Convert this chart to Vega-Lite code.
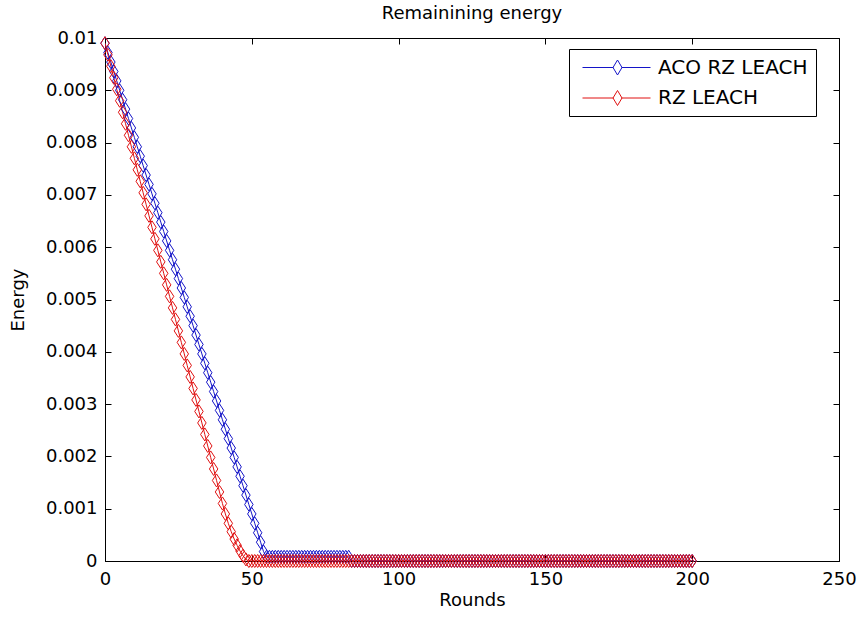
{
  "$schema": "https://vega.github.io/schema/vega-lite/v6.json",
  "width": 734,
  "height": 523,
  "autosize": {"type": "none"},
  "padding": {"left": 105, "top": 38, "right": 19, "bottom": 57},
  "background": "white",
  "title": {"text": "Remainining energy", "fontSize": 18, "fontWeight": "normal", "font": "DejaVu Sans", "color": "black", "offset": 6},
  "config": {
    "view": {"stroke": "black", "strokeWidth": 1},
    "axis": {"grid": false, "domainColor": "black", "tickColor": "black", "labelColor": "black", "titleColor": "black", "labelFont": "DejaVu Sans", "titleFont": "DejaVu Sans", "labelFontSize": 18, "titleFontSize": 18, "titleFontWeight": "normal", "tickSize": -6, "domainWidth": 1, "tickWidth": 1, "labelFlush": false},
    "legend": {"title": null, "orient": "none", "legendX": 464, "legendY": 11, "direction": "vertical",
               "symbolType": "M-0.5,0L2.6,0M3.4,0L6.3,0M3,-0.75L3.45,0L3,0.75L2.55,0Z", "symbolSize": 400, "symbolStrokeWidth": 1,
               "symbolFillColor": "transparent", "labelFont": "DejaVu Sans", "labelFontSize": 20, "labelColor": "black",
               "strokeColor": "black", "fillColor": "white", "padding": 8, "rowPadding": 9.5, "labelOffset": 60, "labelLimit": 400}
  },
  "data": {"values": [
{"r":0,"s":"ACO RZ LEACH","e":0.0099},{"r":1,"s":"ACO RZ LEACH","e":0.00972},{"r":2,"s":"ACO RZ LEACH","e":0.00954},{"r":3,"s":"ACO RZ LEACH","e":0.00936},{"r":4,"s":"ACO RZ LEACH","e":0.00918},{"r":5,"s":"ACO RZ LEACH","e":0.009},{"r":6,"s":"ACO RZ LEACH","e":0.00882},{"r":7,"s":"ACO RZ LEACH","e":0.00864},{"r":8,"s":"ACO RZ LEACH","e":0.00846},{"r":9,"s":"ACO RZ LEACH","e":0.00828},
{"r":10,"s":"ACO RZ LEACH","e":0.0081},{"r":11,"s":"ACO RZ LEACH","e":0.00792},{"r":12,"s":"ACO RZ LEACH","e":0.00774},{"r":13,"s":"ACO RZ LEACH","e":0.00756},{"r":14,"s":"ACO RZ LEACH","e":0.00738},{"r":15,"s":"ACO RZ LEACH","e":0.0072},{"r":16,"s":"ACO RZ LEACH","e":0.00702},{"r":17,"s":"ACO RZ LEACH","e":0.00684},{"r":18,"s":"ACO RZ LEACH","e":0.00666},{"r":19,"s":"ACO RZ LEACH","e":0.00648},
{"r":20,"s":"ACO RZ LEACH","e":0.0063},{"r":21,"s":"ACO RZ LEACH","e":0.00612},{"r":22,"s":"ACO RZ LEACH","e":0.00594},{"r":23,"s":"ACO RZ LEACH","e":0.00576},{"r":24,"s":"ACO RZ LEACH","e":0.00558},{"r":25,"s":"ACO RZ LEACH","e":0.0054},{"r":26,"s":"ACO RZ LEACH","e":0.00522},{"r":27,"s":"ACO RZ LEACH","e":0.00504},{"r":28,"s":"ACO RZ LEACH","e":0.00486},{"r":29,"s":"ACO RZ LEACH","e":0.00468},
{"r":30,"s":"ACO RZ LEACH","e":0.0045},{"r":31,"s":"ACO RZ LEACH","e":0.00432},{"r":32,"s":"ACO RZ LEACH","e":0.00414},{"r":33,"s":"ACO RZ LEACH","e":0.00396},{"r":34,"s":"ACO RZ LEACH","e":0.00378},{"r":35,"s":"ACO RZ LEACH","e":0.0036},{"r":36,"s":"ACO RZ LEACH","e":0.00342},{"r":37,"s":"ACO RZ LEACH","e":0.00324},{"r":38,"s":"ACO RZ LEACH","e":0.00306},{"r":39,"s":"ACO RZ LEACH","e":0.00288},
{"r":40,"s":"ACO RZ LEACH","e":0.0027},{"r":41,"s":"ACO RZ LEACH","e":0.00252},{"r":42,"s":"ACO RZ LEACH","e":0.00234},{"r":43,"s":"ACO RZ LEACH","e":0.00216},{"r":44,"s":"ACO RZ LEACH","e":0.00198},{"r":45,"s":"ACO RZ LEACH","e":0.0018},{"r":46,"s":"ACO RZ LEACH","e":0.00162},{"r":47,"s":"ACO RZ LEACH","e":0.00144},{"r":48,"s":"ACO RZ LEACH","e":0.00126},{"r":49,"s":"ACO RZ LEACH","e":0.00108},
{"r":50,"s":"ACO RZ LEACH","e":0.0009},{"r":51,"s":"ACO RZ LEACH","e":0.00072},{"r":52,"s":"ACO RZ LEACH","e":0.00054},{"r":53,"s":"ACO RZ LEACH","e":0.00036},{"r":54,"s":"ACO RZ LEACH","e":0.00018},{"r":55,"s":"ACO RZ LEACH","e":0.00008},{"r":56,"s":"ACO RZ LEACH","e":0.00008},{"r":57,"s":"ACO RZ LEACH","e":0.00008},{"r":58,"s":"ACO RZ LEACH","e":0.00008},{"r":59,"s":"ACO RZ LEACH","e":0.00008},
{"r":60,"s":"ACO RZ LEACH","e":0.00008},{"r":61,"s":"ACO RZ LEACH","e":0.00008},{"r":62,"s":"ACO RZ LEACH","e":0.00008},{"r":63,"s":"ACO RZ LEACH","e":0.00008},{"r":64,"s":"ACO RZ LEACH","e":0.00008},{"r":65,"s":"ACO RZ LEACH","e":0.00008},{"r":66,"s":"ACO RZ LEACH","e":0.00008},{"r":67,"s":"ACO RZ LEACH","e":0.00008},{"r":68,"s":"ACO RZ LEACH","e":0.00008},{"r":69,"s":"ACO RZ LEACH","e":0.00008},
{"r":70,"s":"ACO RZ LEACH","e":0.00008},{"r":71,"s":"ACO RZ LEACH","e":0.00008},{"r":72,"s":"ACO RZ LEACH","e":0.00008},{"r":73,"s":"ACO RZ LEACH","e":0.00008},{"r":74,"s":"ACO RZ LEACH","e":0.00008},{"r":75,"s":"ACO RZ LEACH","e":0.00008},{"r":76,"s":"ACO RZ LEACH","e":0.00008},{"r":77,"s":"ACO RZ LEACH","e":0.00008},{"r":78,"s":"ACO RZ LEACH","e":0.00008},{"r":79,"s":"ACO RZ LEACH","e":0.00008},
{"r":80,"s":"ACO RZ LEACH","e":0.00008},{"r":81,"s":"ACO RZ LEACH","e":0.00008},{"r":82,"s":"ACO RZ LEACH","e":0.00008},{"r":83,"s":"ACO RZ LEACH","e":0.00008},{"r":84,"s":"ACO RZ LEACH","e":0},{"r":85,"s":"ACO RZ LEACH","e":0},{"r":86,"s":"ACO RZ LEACH","e":0},{"r":87,"s":"ACO RZ LEACH","e":0},{"r":88,"s":"ACO RZ LEACH","e":0},{"r":89,"s":"ACO RZ LEACH","e":0},
{"r":90,"s":"ACO RZ LEACH","e":0},{"r":91,"s":"ACO RZ LEACH","e":0},{"r":92,"s":"ACO RZ LEACH","e":0},{"r":93,"s":"ACO RZ LEACH","e":0},{"r":94,"s":"ACO RZ LEACH","e":0},{"r":95,"s":"ACO RZ LEACH","e":0},{"r":96,"s":"ACO RZ LEACH","e":0},{"r":97,"s":"ACO RZ LEACH","e":0},{"r":98,"s":"ACO RZ LEACH","e":0},{"r":99,"s":"ACO RZ LEACH","e":0},
{"r":100,"s":"ACO RZ LEACH","e":0},{"r":101,"s":"ACO RZ LEACH","e":0},{"r":102,"s":"ACO RZ LEACH","e":0},{"r":103,"s":"ACO RZ LEACH","e":0},{"r":104,"s":"ACO RZ LEACH","e":0},{"r":105,"s":"ACO RZ LEACH","e":0},{"r":106,"s":"ACO RZ LEACH","e":0},{"r":107,"s":"ACO RZ LEACH","e":0},{"r":108,"s":"ACO RZ LEACH","e":0},{"r":109,"s":"ACO RZ LEACH","e":0},
{"r":110,"s":"ACO RZ LEACH","e":0},{"r":111,"s":"ACO RZ LEACH","e":0},{"r":112,"s":"ACO RZ LEACH","e":0},{"r":113,"s":"ACO RZ LEACH","e":0},{"r":114,"s":"ACO RZ LEACH","e":0},{"r":115,"s":"ACO RZ LEACH","e":0},{"r":116,"s":"ACO RZ LEACH","e":0},{"r":117,"s":"ACO RZ LEACH","e":0},{"r":118,"s":"ACO RZ LEACH","e":0},{"r":119,"s":"ACO RZ LEACH","e":0},
{"r":120,"s":"ACO RZ LEACH","e":0},{"r":121,"s":"ACO RZ LEACH","e":0},{"r":122,"s":"ACO RZ LEACH","e":0},{"r":123,"s":"ACO RZ LEACH","e":0},{"r":124,"s":"ACO RZ LEACH","e":0},{"r":125,"s":"ACO RZ LEACH","e":0},{"r":126,"s":"ACO RZ LEACH","e":0},{"r":127,"s":"ACO RZ LEACH","e":0},{"r":128,"s":"ACO RZ LEACH","e":0},{"r":129,"s":"ACO RZ LEACH","e":0},
{"r":130,"s":"ACO RZ LEACH","e":0},{"r":131,"s":"ACO RZ LEACH","e":0},{"r":132,"s":"ACO RZ LEACH","e":0},{"r":133,"s":"ACO RZ LEACH","e":0},{"r":134,"s":"ACO RZ LEACH","e":0},{"r":135,"s":"ACO RZ LEACH","e":0},{"r":136,"s":"ACO RZ LEACH","e":0},{"r":137,"s":"ACO RZ LEACH","e":0},{"r":138,"s":"ACO RZ LEACH","e":0},{"r":139,"s":"ACO RZ LEACH","e":0},
{"r":140,"s":"ACO RZ LEACH","e":0},{"r":141,"s":"ACO RZ LEACH","e":0},{"r":142,"s":"ACO RZ LEACH","e":0},{"r":143,"s":"ACO RZ LEACH","e":0},{"r":144,"s":"ACO RZ LEACH","e":0},{"r":145,"s":"ACO RZ LEACH","e":0},{"r":146,"s":"ACO RZ LEACH","e":0},{"r":147,"s":"ACO RZ LEACH","e":0},{"r":148,"s":"ACO RZ LEACH","e":0},{"r":149,"s":"ACO RZ LEACH","e":0},
{"r":150,"s":"ACO RZ LEACH","e":0},{"r":151,"s":"ACO RZ LEACH","e":0},{"r":152,"s":"ACO RZ LEACH","e":0},{"r":153,"s":"ACO RZ LEACH","e":0},{"r":154,"s":"ACO RZ LEACH","e":0},{"r":155,"s":"ACO RZ LEACH","e":0},{"r":156,"s":"ACO RZ LEACH","e":0},{"r":157,"s":"ACO RZ LEACH","e":0},{"r":158,"s":"ACO RZ LEACH","e":0},{"r":159,"s":"ACO RZ LEACH","e":0},
{"r":160,"s":"ACO RZ LEACH","e":0},{"r":161,"s":"ACO RZ LEACH","e":0},{"r":162,"s":"ACO RZ LEACH","e":0},{"r":163,"s":"ACO RZ LEACH","e":0},{"r":164,"s":"ACO RZ LEACH","e":0},{"r":165,"s":"ACO RZ LEACH","e":0},{"r":166,"s":"ACO RZ LEACH","e":0},{"r":167,"s":"ACO RZ LEACH","e":0},{"r":168,"s":"ACO RZ LEACH","e":0},{"r":169,"s":"ACO RZ LEACH","e":0},
{"r":170,"s":"ACO RZ LEACH","e":0},{"r":171,"s":"ACO RZ LEACH","e":0},{"r":172,"s":"ACO RZ LEACH","e":0},{"r":173,"s":"ACO RZ LEACH","e":0},{"r":174,"s":"ACO RZ LEACH","e":0},{"r":175,"s":"ACO RZ LEACH","e":0},{"r":176,"s":"ACO RZ LEACH","e":0},{"r":177,"s":"ACO RZ LEACH","e":0},{"r":178,"s":"ACO RZ LEACH","e":0},{"r":179,"s":"ACO RZ LEACH","e":0},
{"r":180,"s":"ACO RZ LEACH","e":0},{"r":181,"s":"ACO RZ LEACH","e":0},{"r":182,"s":"ACO RZ LEACH","e":0},{"r":183,"s":"ACO RZ LEACH","e":0},{"r":184,"s":"ACO RZ LEACH","e":0},{"r":185,"s":"ACO RZ LEACH","e":0},{"r":186,"s":"ACO RZ LEACH","e":0},{"r":187,"s":"ACO RZ LEACH","e":0},{"r":188,"s":"ACO RZ LEACH","e":0},{"r":189,"s":"ACO RZ LEACH","e":0},
{"r":190,"s":"ACO RZ LEACH","e":0},{"r":191,"s":"ACO RZ LEACH","e":0},{"r":192,"s":"ACO RZ LEACH","e":0},{"r":193,"s":"ACO RZ LEACH","e":0},{"r":194,"s":"ACO RZ LEACH","e":0},{"r":195,"s":"ACO RZ LEACH","e":0},{"r":196,"s":"ACO RZ LEACH","e":0},{"r":197,"s":"ACO RZ LEACH","e":0},{"r":198,"s":"ACO RZ LEACH","e":0},{"r":199,"s":"ACO RZ LEACH","e":0},
{"r":200,"s":"ACO RZ LEACH","e":0},
{"r":0,"s":"RZ LEACH","e":0.0099},{"r":1,"s":"RZ LEACH","e":0.00968},{"r":2,"s":"RZ LEACH","e":0.00946},{"r":3,"s":"RZ LEACH","e":0.00924},{"r":4,"s":"RZ LEACH","e":0.00902},{"r":5,"s":"RZ LEACH","e":0.0088},{"r":6,"s":"RZ LEACH","e":0.00858},{"r":7,"s":"RZ LEACH","e":0.00836},{"r":8,"s":"RZ LEACH","e":0.00814},{"r":9,"s":"RZ LEACH","e":0.00792},
{"r":10,"s":"RZ LEACH","e":0.0077},{"r":11,"s":"RZ LEACH","e":0.00748},{"r":12,"s":"RZ LEACH","e":0.00726},{"r":13,"s":"RZ LEACH","e":0.00704},{"r":14,"s":"RZ LEACH","e":0.00682},{"r":15,"s":"RZ LEACH","e":0.0066},{"r":16,"s":"RZ LEACH","e":0.00638},{"r":17,"s":"RZ LEACH","e":0.00616},{"r":18,"s":"RZ LEACH","e":0.00594},{"r":19,"s":"RZ LEACH","e":0.00572},
{"r":20,"s":"RZ LEACH","e":0.0055},{"r":21,"s":"RZ LEACH","e":0.00528},{"r":22,"s":"RZ LEACH","e":0.00506},{"r":23,"s":"RZ LEACH","e":0.00484},{"r":24,"s":"RZ LEACH","e":0.00462},{"r":25,"s":"RZ LEACH","e":0.0044},{"r":26,"s":"RZ LEACH","e":0.00418},{"r":27,"s":"RZ LEACH","e":0.00396},{"r":28,"s":"RZ LEACH","e":0.00374},{"r":29,"s":"RZ LEACH","e":0.00352},
{"r":30,"s":"RZ LEACH","e":0.0033},{"r":31,"s":"RZ LEACH","e":0.00308},{"r":32,"s":"RZ LEACH","e":0.00286},{"r":33,"s":"RZ LEACH","e":0.00264},{"r":34,"s":"RZ LEACH","e":0.00242},{"r":35,"s":"RZ LEACH","e":0.0022},{"r":36,"s":"RZ LEACH","e":0.00198},{"r":37,"s":"RZ LEACH","e":0.00176},{"r":38,"s":"RZ LEACH","e":0.00154},{"r":39,"s":"RZ LEACH","e":0.00132},
{"r":40,"s":"RZ LEACH","e":0.0011},{"r":41,"s":"RZ LEACH","e":0.0009},{"r":42,"s":"RZ LEACH","e":0.00072},{"r":43,"s":"RZ LEACH","e":0.00056},{"r":44,"s":"RZ LEACH","e":0.00042},{"r":45,"s":"RZ LEACH","e":0.0003},{"r":46,"s":"RZ LEACH","e":0.00019},{"r":47,"s":"RZ LEACH","e":0.0001},{"r":48,"s":"RZ LEACH","e":0.00003},{"r":49,"s":"RZ LEACH","e":0},
{"r":50,"s":"RZ LEACH","e":0},{"r":51,"s":"RZ LEACH","e":0},{"r":52,"s":"RZ LEACH","e":0},{"r":53,"s":"RZ LEACH","e":0},{"r":54,"s":"RZ LEACH","e":0},{"r":55,"s":"RZ LEACH","e":0},{"r":56,"s":"RZ LEACH","e":0},{"r":57,"s":"RZ LEACH","e":0},{"r":58,"s":"RZ LEACH","e":0},{"r":59,"s":"RZ LEACH","e":0},
{"r":60,"s":"RZ LEACH","e":0},{"r":61,"s":"RZ LEACH","e":0},{"r":62,"s":"RZ LEACH","e":0},{"r":63,"s":"RZ LEACH","e":0},{"r":64,"s":"RZ LEACH","e":0},{"r":65,"s":"RZ LEACH","e":0},{"r":66,"s":"RZ LEACH","e":0},{"r":67,"s":"RZ LEACH","e":0},{"r":68,"s":"RZ LEACH","e":0},{"r":69,"s":"RZ LEACH","e":0},
{"r":70,"s":"RZ LEACH","e":0},{"r":71,"s":"RZ LEACH","e":0},{"r":72,"s":"RZ LEACH","e":0},{"r":73,"s":"RZ LEACH","e":0},{"r":74,"s":"RZ LEACH","e":0},{"r":75,"s":"RZ LEACH","e":0},{"r":76,"s":"RZ LEACH","e":0},{"r":77,"s":"RZ LEACH","e":0},{"r":78,"s":"RZ LEACH","e":0},{"r":79,"s":"RZ LEACH","e":0},
{"r":80,"s":"RZ LEACH","e":0},{"r":81,"s":"RZ LEACH","e":0},{"r":82,"s":"RZ LEACH","e":0},{"r":83,"s":"RZ LEACH","e":0},{"r":84,"s":"RZ LEACH","e":0},{"r":85,"s":"RZ LEACH","e":0},{"r":86,"s":"RZ LEACH","e":0},{"r":87,"s":"RZ LEACH","e":0},{"r":88,"s":"RZ LEACH","e":0},{"r":89,"s":"RZ LEACH","e":0},
{"r":90,"s":"RZ LEACH","e":0},{"r":91,"s":"RZ LEACH","e":0},{"r":92,"s":"RZ LEACH","e":0},{"r":93,"s":"RZ LEACH","e":0},{"r":94,"s":"RZ LEACH","e":0},{"r":95,"s":"RZ LEACH","e":0},{"r":96,"s":"RZ LEACH","e":0},{"r":97,"s":"RZ LEACH","e":0},{"r":98,"s":"RZ LEACH","e":0},{"r":99,"s":"RZ LEACH","e":0},
{"r":100,"s":"RZ LEACH","e":0},{"r":101,"s":"RZ LEACH","e":0},{"r":102,"s":"RZ LEACH","e":0},{"r":103,"s":"RZ LEACH","e":0},{"r":104,"s":"RZ LEACH","e":0},{"r":105,"s":"RZ LEACH","e":0},{"r":106,"s":"RZ LEACH","e":0},{"r":107,"s":"RZ LEACH","e":0},{"r":108,"s":"RZ LEACH","e":0},{"r":109,"s":"RZ LEACH","e":0},
{"r":110,"s":"RZ LEACH","e":0},{"r":111,"s":"RZ LEACH","e":0},{"r":112,"s":"RZ LEACH","e":0},{"r":113,"s":"RZ LEACH","e":0},{"r":114,"s":"RZ LEACH","e":0},{"r":115,"s":"RZ LEACH","e":0},{"r":116,"s":"RZ LEACH","e":0},{"r":117,"s":"RZ LEACH","e":0},{"r":118,"s":"RZ LEACH","e":0},{"r":119,"s":"RZ LEACH","e":0},
{"r":120,"s":"RZ LEACH","e":0},{"r":121,"s":"RZ LEACH","e":0},{"r":122,"s":"RZ LEACH","e":0},{"r":123,"s":"RZ LEACH","e":0},{"r":124,"s":"RZ LEACH","e":0},{"r":125,"s":"RZ LEACH","e":0},{"r":126,"s":"RZ LEACH","e":0},{"r":127,"s":"RZ LEACH","e":0},{"r":128,"s":"RZ LEACH","e":0},{"r":129,"s":"RZ LEACH","e":0},
{"r":130,"s":"RZ LEACH","e":0},{"r":131,"s":"RZ LEACH","e":0},{"r":132,"s":"RZ LEACH","e":0},{"r":133,"s":"RZ LEACH","e":0},{"r":134,"s":"RZ LEACH","e":0},{"r":135,"s":"RZ LEACH","e":0},{"r":136,"s":"RZ LEACH","e":0},{"r":137,"s":"RZ LEACH","e":0},{"r":138,"s":"RZ LEACH","e":0},{"r":139,"s":"RZ LEACH","e":0},
{"r":140,"s":"RZ LEACH","e":0},{"r":141,"s":"RZ LEACH","e":0},{"r":142,"s":"RZ LEACH","e":0},{"r":143,"s":"RZ LEACH","e":0},{"r":144,"s":"RZ LEACH","e":0},{"r":145,"s":"RZ LEACH","e":0},{"r":146,"s":"RZ LEACH","e":0},{"r":147,"s":"RZ LEACH","e":0},{"r":148,"s":"RZ LEACH","e":0},{"r":149,"s":"RZ LEACH","e":0},
{"r":150,"s":"RZ LEACH","e":0},{"r":151,"s":"RZ LEACH","e":0},{"r":152,"s":"RZ LEACH","e":0},{"r":153,"s":"RZ LEACH","e":0},{"r":154,"s":"RZ LEACH","e":0},{"r":155,"s":"RZ LEACH","e":0},{"r":156,"s":"RZ LEACH","e":0},{"r":157,"s":"RZ LEACH","e":0},{"r":158,"s":"RZ LEACH","e":0},{"r":159,"s":"RZ LEACH","e":0},
{"r":160,"s":"RZ LEACH","e":0},{"r":161,"s":"RZ LEACH","e":0},{"r":162,"s":"RZ LEACH","e":0},{"r":163,"s":"RZ LEACH","e":0},{"r":164,"s":"RZ LEACH","e":0},{"r":165,"s":"RZ LEACH","e":0},{"r":166,"s":"RZ LEACH","e":0},{"r":167,"s":"RZ LEACH","e":0},{"r":168,"s":"RZ LEACH","e":0},{"r":169,"s":"RZ LEACH","e":0},
{"r":170,"s":"RZ LEACH","e":0},{"r":171,"s":"RZ LEACH","e":0},{"r":172,"s":"RZ LEACH","e":0},{"r":173,"s":"RZ LEACH","e":0},{"r":174,"s":"RZ LEACH","e":0},{"r":175,"s":"RZ LEACH","e":0},{"r":176,"s":"RZ LEACH","e":0},{"r":177,"s":"RZ LEACH","e":0},{"r":178,"s":"RZ LEACH","e":0},{"r":179,"s":"RZ LEACH","e":0},
{"r":180,"s":"RZ LEACH","e":0},{"r":181,"s":"RZ LEACH","e":0},{"r":182,"s":"RZ LEACH","e":0},{"r":183,"s":"RZ LEACH","e":0},{"r":184,"s":"RZ LEACH","e":0},{"r":185,"s":"RZ LEACH","e":0},{"r":186,"s":"RZ LEACH","e":0},{"r":187,"s":"RZ LEACH","e":0},{"r":188,"s":"RZ LEACH","e":0},{"r":189,"s":"RZ LEACH","e":0},
{"r":190,"s":"RZ LEACH","e":0},{"r":191,"s":"RZ LEACH","e":0},{"r":192,"s":"RZ LEACH","e":0},{"r":193,"s":"RZ LEACH","e":0},{"r":194,"s":"RZ LEACH","e":0},{"r":195,"s":"RZ LEACH","e":0},{"r":196,"s":"RZ LEACH","e":0},{"r":197,"s":"RZ LEACH","e":0},{"r":198,"s":"RZ LEACH","e":0},{"r":199,"s":"RZ LEACH","e":0},
{"r":200,"s":"RZ LEACH","e":0}
  ]},
  "resolve": {"axis": {"x": "independent", "y": "independent"}},
  "layer": [
    {
      "mark": {"type": "line", "strokeWidth": 1, "clip": true},
      "encoding": {
        "x": {"field": "r", "type": "quantitative", "scale": {"domain": [0, 250], "nice": false},
              "axis": {"orient": "bottom", "values": [0, 50, 100, 150, 200, 250], "title": "Rounds", "labelPadding": 15, "titlePadding": 3}},
        "y": {"field": "e", "type": "quantitative", "scale": {"domain": [0, 0.01], "nice": false, "zero": true},
              "axis": {"orient": "left", "values": [0, 0.001, 0.002, 0.003, 0.004, 0.005, 0.006, 0.007, 0.008, 0.009, 0.01], "format": ".3~f", "title": "Energy", "labelPadding": 14, "titlePadding": 18}},
        "color": {"field": "s", "type": "nominal", "scale": {"domain": ["ACO RZ LEACH", "RZ LEACH"], "range": ["#1414c8", "#e01010"]}},
        "detail": {"field": "s"}
      }
    },
    {
      "mark": {"type": "point", "filled": false, "strokeWidth": 1, "opacity": 1, "shape": "M0,-1L0.65,0L0,1L-0.65,0Z", "size": 170, "clip": false},
      "encoding": {
        "x": {"field": "r", "type": "quantitative", "scale": {"domain": [0, 250], "nice": false},
              "axis": {"orient": "top", "values": [0, 50, 100, 150, 200, 250], "labels": false, "title": null, "domain": false}},
        "y": {"field": "e", "type": "quantitative", "scale": {"domain": [0, 0.01], "nice": false},
              "axis": {"orient": "right", "values": [0, 0.001, 0.002, 0.003, 0.004, 0.005, 0.006, 0.007, 0.008, 0.009, 0.01], "labels": false, "title": null, "domain": false}},
        "color": {"field": "s", "type": "nominal", "scale": {"domain": ["ACO RZ LEACH", "RZ LEACH"], "range": ["#1414c8", "#e01010"]}}
      }
    }
  ]
}
